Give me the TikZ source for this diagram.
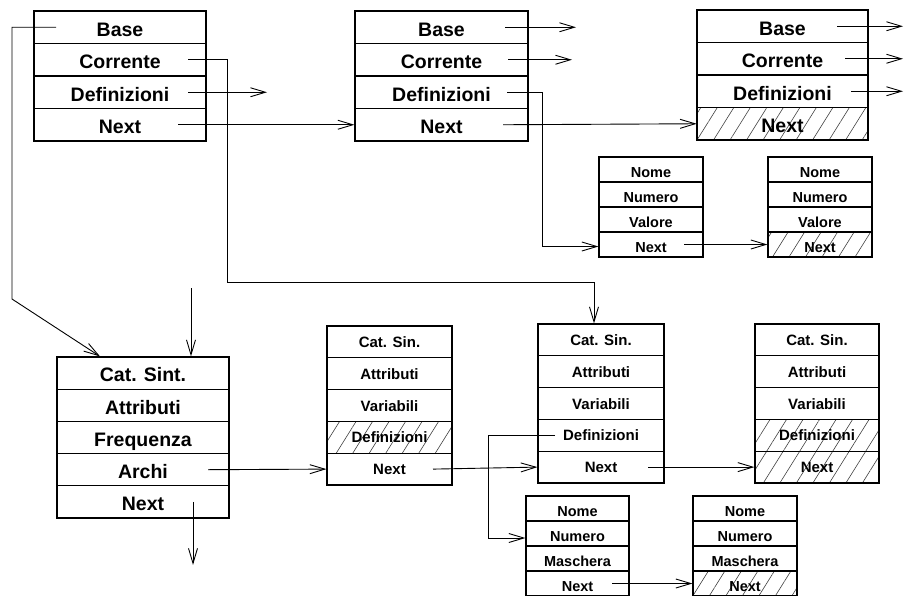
\documentclass[tikz,border=0pt]{standalone}
\usepackage{fontspec}
\setmainfont{Liberation Sans}
\usetikzlibrary{arrows.meta,patterns.meta}

\tikzset{
  plain/.style={},
  cell/.style={draw, line width=1.2pt, inner sep=0pt, anchor=center},
  bigtxt/.style={font=\fontsize{19.5}{21}\selectfont\bfseries, text height=17.6pt, text depth=0pt},
  midtxt/.style={font=\fontsize{15}{17}\selectfont\bfseries, text height=11.2pt, text depth=0pt},
  smalltxt/.style={font=\fontsize{14.5}{16}\selectfont\bfseries, text height=15.4pt, text depth=0pt},
  hatch/.style={pattern={Lines[angle=58,distance=14pt,line width=0.6pt]}, pattern color=black!75},
  conn/.style={line width=0.9pt, -{Straight Barb[length=15pt,width=9pt]}},
}

% a vertical stack of cells: name, centre x, top y, width, row height (plain numbers), text style, cells
\newcommand\recbox[7]{%
  \foreach \txt/\sty [count=\i] in {#7}
    \node[cell, #6, minimum width=#4pt, minimum height=#5pt, \sty] (#1\i)
      at (#2, {#3+#5*(\i-0.5)}) {\txt};
}

\begin{document}
\begin{tikzpicture}[x=1pt, y=-1pt]
  \useasboundingbox (0,0) rectangle (905,595);
  \clip (0,0) rectangle (905,595);

  % symbol tables along the top
  \recbox{topA}{120}{11}{172}{32.5}{bigtxt}{Base/plain,Corrente/plain,Definizioni/plain,Next/plain}
  \recbox{topB}{441.5}{11}{173}{32.5}{bigtxt}{Base/plain,Corrente/plain,Definizioni/plain,Next/plain}
  \recbox{topC}{782.5}{10}{171}{32.5}{bigtxt}{Base/plain,Corrente/plain,Definizioni/plain,Next/hatch}

  % value records
  \recbox{valA}{651}{157}{104}{25}{smalltxt}{Nome/plain,Numero/plain,Valore/plain,Next/plain}
  \recbox{valB}{820}{157}{104}{25}{smalltxt}{Nome/plain,Numero/plain,Valore/plain,Next/hatch}

  % syntactic category node
  \recbox{cat}{143}{357}{172}{32.2}{bigtxt}{Cat. Sint./plain,Attributi/plain,Frequenza/plain,Archi/plain,Next/plain}

  % arcs
  \recbox{synA}{389.5}{326}{125}{31.8}{midtxt}{Cat. Sin./plain,Attributi/plain,Variabili/plain,Definizioni/hatch,Next/plain}
  \recbox{synB}{601}{324}{126}{31.8}{midtxt}{Cat. Sin./plain,Attributi/plain,Variabili/plain,Definizioni/plain,Next/plain}
  \recbox{synC}{817}{324}{124}{31.8}{midtxt}{Cat. Sin./plain,Attributi/plain,Variabili/plain,Definizioni/hatch,Next/hatch}

  % mask records
  \recbox{mskA}{577.5}{496}{103}{25}{smalltxt}{Nome/plain,Numero/plain,Maschera/plain,Next/plain}
  \recbox{mskB}{745}{496}{104}{25}{smalltxt}{Nome/plain,Numero/plain,Maschera/plain,Next/hatch}

  % pointers of the first table
  \draw[conn] ([xshift=-64pt]topA1.center) -| (12,299) -- ([xshift=-43pt]cat1.north);
  \draw[conn] ([xshift=68pt]topA2.center) -| (227,282) -| ([xshift=-7pt]synB1.north);
  \draw[conn] ([xshift=68pt]topA3.center) -- ++(79,0);
  \draw[conn] ([xshift=58pt]topA4.center) -- (topB4.west);

  % pointers of the second table
  \draw[conn] ([xshift=63.5pt]topB1.center) -- ++(71,0);
  \draw[conn] ([xshift=66.5pt]topB2.center) -- ++(64,0);
  \draw[conn] ([xshift=65.5pt]topB3.center) -| ([xshift=-56pt, yshift=-2pt]valA4.west) -- ([yshift=-2pt]valA4.west);
  \draw[conn] ([xshift=61.5pt]topB4.center) -- (topC4.west);

  % pointers of the third table
  \draw[conn] ([xshift=54.5pt]topC1.center) -- ++(66,0);
  \draw[conn] ([xshift=62.5pt]topC2.center) -- ++(58,0);
  \draw[conn] ([xshift=68.5pt]topC3.center) -- ++(52,0);

  \draw[conn] ([xshift=33pt]valA4.center) -- (valB4.west);

  % category node links
  \coordinate (catIn) at (191,288);
  \draw[conn] (catIn) -- ([xshift=48pt]cat1.north);
  \draw[conn] ([xshift=65pt]cat4.center) -- (synA5.west);
  \draw[conn] ([xshift=50pt]cat5.center) -- ++(0,63);

  % arc chain
  \draw[conn] ([xshift=43.5pt]synA5.center) -- (synB5.west);
  \draw[conn] ([xshift=47pt]synB5.center) -- (synC5.west);
  \draw[conn] ([xshift=-46pt]synB4.center) -| ([xshift=-37pt, yshift=-4.5pt]mskA2.west) -- ([yshift=-4.5pt]mskA2.west);
  \draw[conn] ([xshift=34.5pt]mskA4.center) -- (mskB4.west);
\end{tikzpicture}
\end{document}
